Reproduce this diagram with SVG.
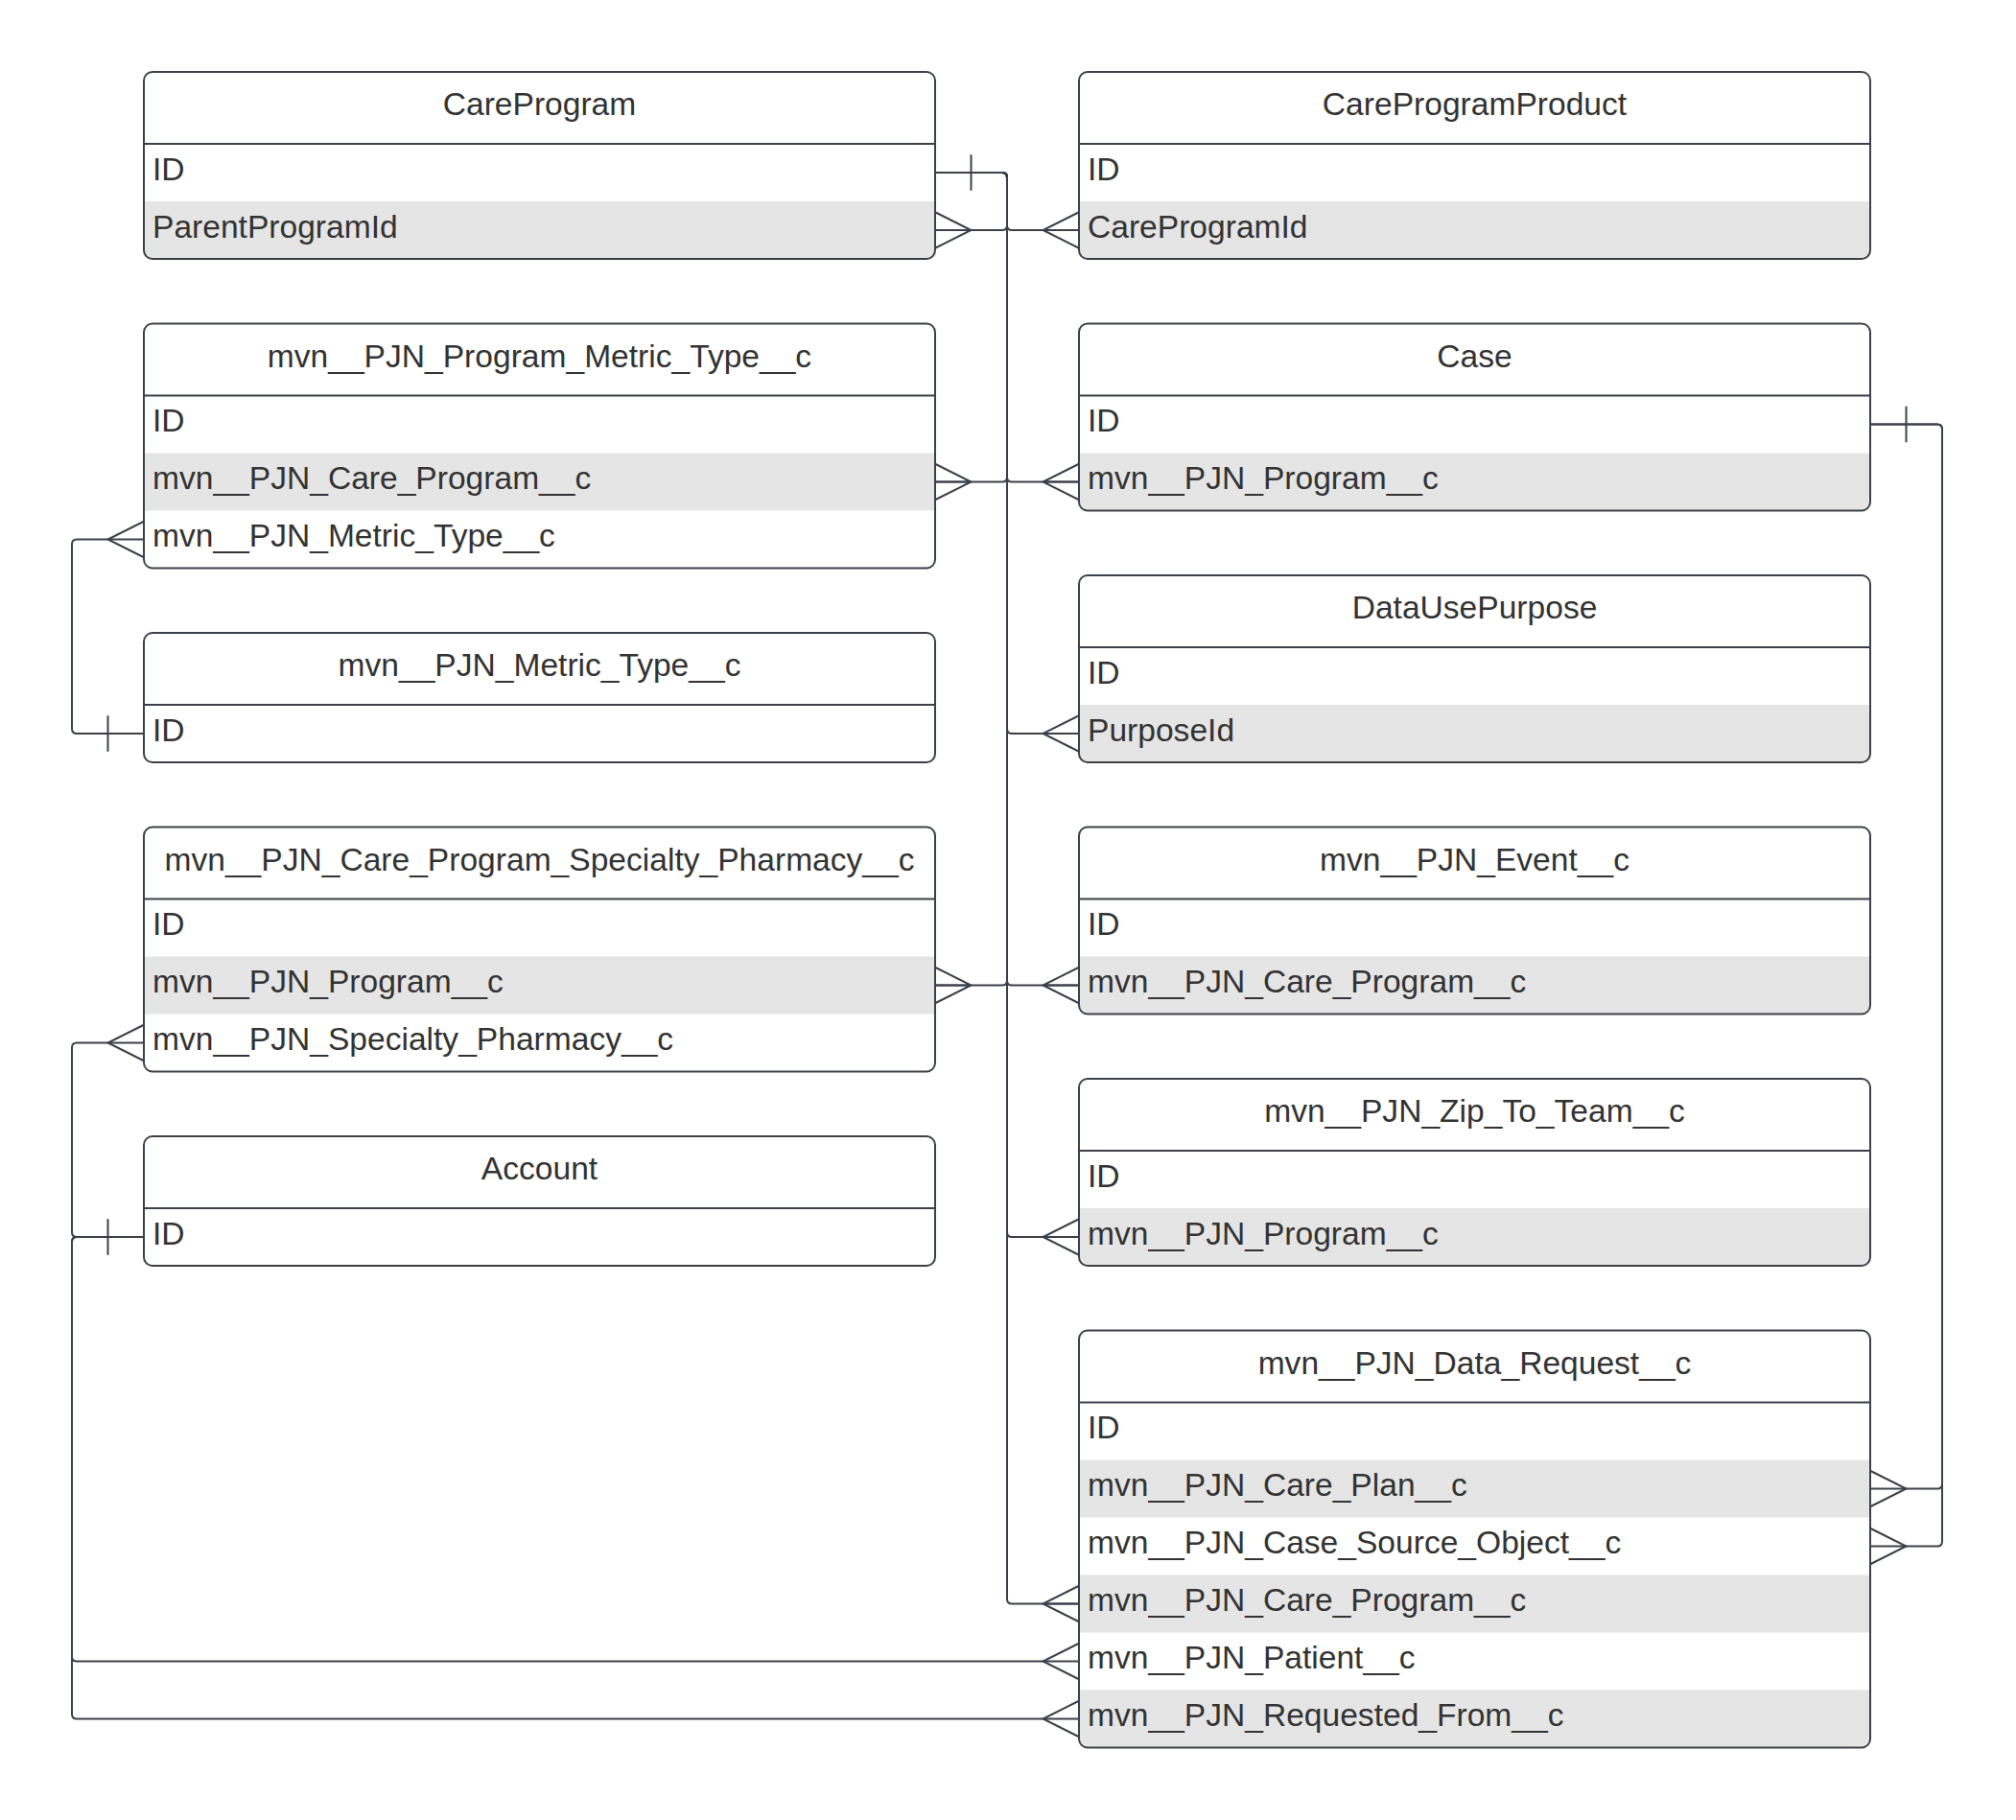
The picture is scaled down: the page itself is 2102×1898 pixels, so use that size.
<svg xmlns="http://www.w3.org/2000/svg" width="2102" height="1898" viewBox="0 0 2102 1898">
<style>
.bg{fill:#ffffff;}
.out{fill:none;stroke:#3a414a;stroke-width:2;}
.sep{stroke:#3a414a;stroke-width:2;}
.g{fill:#e5e5e5;}
.t{font-family:"Liberation Sans",Arial,sans-serif;font-size:33.6px;fill:#333333;}
.h{text-anchor:middle;}
.c{fill:none;stroke:#3a414a;stroke-width:2;}
</style>
<rect x="0" y="0" width="2102" height="1898" fill="#ffffff"/>

<g id="connectors">
  <path class="c" d="M975,180 H1045 Q1050,180 1050,185 V235 Q1050,240 1045,240 H975"/>
  <path class="c" d="M975,180 H1045 Q1050,180 1050,185 V235 Q1050,240 1055,240 H1125"/>
  <path class="c" d="M975,180 H1045 Q1050,180 1050,185 V497.5 Q1050,502.5 1045,502.5 H975"/>
  <path class="c" d="M975,180 H1045 Q1050,180 1050,185 V497.5 Q1050,502.5 1055,502.5 H1125"/>
  <path class="c" d="M975,180 H1045 Q1050,180 1050,185 V760 Q1050,765 1055,765 H1125"/>
  <path class="c" d="M975,180 H1045 Q1050,180 1050,185 V1022.5 Q1050,1027.5 1045,1027.5 H975"/>
  <path class="c" d="M975,180 H1045 Q1050,180 1050,185 V1022.5 Q1050,1027.5 1055,1027.5 H1125"/>
  <path class="c" d="M975,180 H1045 Q1050,180 1050,185 V1285 Q1050,1290 1055,1290 H1125"/>
  <path class="c" d="M975,180 H1045 Q1050,180 1050,185 V1667.5 Q1050,1672.5 1055,1672.5 H1125"/>
  <path class="c" d="M1012.5,161.25 V198.75"/>
  <path class="c" d="M975,221.25 L1012.5,240 L975,258.75 M975,240 H1012.5"/>
  <path class="c" d="M1125,221.25 L1087.5,240 L1125,258.75 M1125,240 H1087.5"/>
  <path class="c" d="M975,483.75 L1012.5,502.5 L975,521.25 M975,502.5 H1012.5"/>
  <path class="c" d="M1125,483.75 L1087.5,502.5 L1125,521.25 M1125,502.5 H1087.5"/>
  <path class="c" d="M1125,746.25 L1087.5,765 L1125,783.75 M1125,765 H1087.5"/>
  <path class="c" d="M975,1008.75 L1012.5,1027.5 L975,1046.25 M975,1027.5 H1012.5"/>
  <path class="c" d="M1125,1008.75 L1087.5,1027.5 L1125,1046.25 M1125,1027.5 H1087.5"/>
  <path class="c" d="M1125,1271.25 L1087.5,1290 L1125,1308.75 M1125,1290 H1087.5"/>
  <path class="c" d="M1125,1653.75 L1087.5,1672.5 L1125,1691.25 M1125,1672.5 H1087.5"/>

  <path class="c" d="M150,765 H80 Q75,765 75,760 V567.5 Q75,562.5 80,562.5 H150"/>
  <path class="c" d="M112.5,746.25 V783.75"/>
  <path class="c" d="M150,543.75 L112.5,562.5 L150,581.25"/>

  <path class="c" d="M150,1290 H80 Q75,1290 75,1285 V1092.5 Q75,1087.5 80,1087.5 H150"/>
  <path class="c" d="M150,1290 H80 Q75,1290 75,1295 V1727.5 Q75,1732.5 80,1732.5 H1125"/>
  <path class="c" d="M150,1290 H80 Q75,1290 75,1295 V1787.5 Q75,1792.5 80,1792.5 H1125"/>
  <path class="c" d="M112.5,1271.25 V1308.75"/>
  <path class="c" d="M150,1068.75 L112.5,1087.5 L150,1106.25"/>
  <path class="c" d="M1125,1713.75 L1087.5,1732.5 L1125,1751.25"/>
  <path class="c" d="M1125,1773.75 L1087.5,1792.5 L1125,1811.25"/>

  <path class="c" d="M1950,442.5 H2020 Q2025,442.5 2025,447.5 V1547.5 Q2025,1552.5 2020,1552.5 H1950"/>
  <path class="c" d="M1950,442.5 H2020 Q2025,442.5 2025,447.5 V1607.5 Q2025,1612.5 2020,1612.5 H1950"/>
  <path class="c" d="M1987.5,423.75 V461.25"/>
  <path class="c" d="M1950,1533.75 L1987.5,1552.5 L1950,1571.25"/>
  <path class="c" d="M1950,1593.75 L1987.5,1612.5 L1950,1631.25"/>
</g>

<g id="CareProgram">
  <rect class="bg" x="150" y="75" width="825" height="195" rx="9"/>
  <path class="g" d="M150,210 H975 V261 A9,9 0 0 1 966,270 H159 A9,9 0 0 1 150,261 Z"/>
  <line class="sep" x1="150" y1="150" x2="975" y2="150"/>
  <rect class="out" x="150" y="75" width="825" height="195" rx="9"/>
  <text class="t h" x="562.5" y="120">CareProgram</text>
  <text class="t" x="159" y="187.5">ID</text>
  <text class="t" x="159" y="247.5">ParentProgramId</text>
</g>

<g id="PMT">
  <rect class="bg" x="150" y="337.5" width="825" height="255" rx="9"/>
  <rect class="g" x="150" y="472.5" width="825" height="60"/>
  <line class="sep" x1="150" y1="412.5" x2="975" y2="412.5"/>
  <rect class="out" x="150" y="337.5" width="825" height="255" rx="9"/>
  <text class="t h" x="562.5" y="382.5">mvn__PJN_Program_Metric_Type__c</text>
  <text class="t" x="159" y="450">ID</text>
  <text class="t" x="159" y="510">mvn__PJN_Care_Program__c</text>
  <text class="t" x="159" y="570">mvn__PJN_Metric_Type__c</text>
</g>

<g id="MetricType">
  <rect class="bg" x="150" y="660" width="825" height="135" rx="9"/>
  <line class="sep" x1="150" y1="735" x2="975" y2="735"/>
  <rect class="out" x="150" y="660" width="825" height="135" rx="9"/>
  <text class="t h" x="562.5" y="705">mvn__PJN_Metric_Type__c</text>
  <text class="t" x="159" y="772.5">ID</text>
</g>

<g id="CPSP">
  <rect class="bg" x="150" y="862.5" width="825" height="255" rx="9"/>
  <rect class="g" x="150" y="997.5" width="825" height="60"/>
  <line class="sep" x1="150" y1="937.5" x2="975" y2="937.5"/>
  <rect class="out" x="150" y="862.5" width="825" height="255" rx="9"/>
  <text class="t h" x="562.5" y="907.5">mvn__PJN_Care_Program_Specialty_Pharmacy__c</text>
  <text class="t" x="159" y="975">ID</text>
  <text class="t" x="159" y="1035">mvn__PJN_Program__c</text>
  <text class="t" x="159" y="1095">mvn__PJN_Specialty_Pharmacy__c</text>
</g>

<g id="Account">
  <rect class="bg" x="150" y="1185" width="825" height="135" rx="9"/>
  <line class="sep" x1="150" y1="1260" x2="975" y2="1260"/>
  <rect class="out" x="150" y="1185" width="825" height="135" rx="9"/>
  <text class="t h" x="562.5" y="1230">Account</text>
  <text class="t" x="159" y="1297.5">ID</text>
</g>

<g id="CareProgramProduct">
  <rect class="bg" x="1125" y="75" width="825" height="195" rx="9"/>
  <path class="g" d="M1125,210 H1950 V261 A9,9 0 0 1 1941,270 H1134 A9,9 0 0 1 1125,261 Z"/>
  <line class="sep" x1="1125" y1="150" x2="1950" y2="150"/>
  <rect class="out" x="1125" y="75" width="825" height="195" rx="9"/>
  <text class="t h" x="1537.5" y="120">CareProgramProduct</text>
  <text class="t" x="1134" y="187.5">ID</text>
  <text class="t" x="1134" y="247.5">CareProgramId</text>
</g>

<g id="Case">
  <rect class="bg" x="1125" y="337.5" width="825" height="195" rx="9"/>
  <path class="g" d="M1125,472.5 H1950 V523.5 A9,9 0 0 1 1941,532.5 H1134 A9,9 0 0 1 1125,523.5 Z"/>
  <line class="sep" x1="1125" y1="412.5" x2="1950" y2="412.5"/>
  <rect class="out" x="1125" y="337.5" width="825" height="195" rx="9"/>
  <text class="t h" x="1537.5" y="382.5">Case</text>
  <text class="t" x="1134" y="450">ID</text>
  <text class="t" x="1134" y="510">mvn__PJN_Program__c</text>
</g>

<g id="DataUsePurpose">
  <rect class="bg" x="1125" y="600" width="825" height="195" rx="9"/>
  <path class="g" d="M1125,735 H1950 V786 A9,9 0 0 1 1941,795 H1134 A9,9 0 0 1 1125,786 Z"/>
  <line class="sep" x1="1125" y1="675" x2="1950" y2="675"/>
  <rect class="out" x="1125" y="600" width="825" height="195" rx="9"/>
  <text class="t h" x="1537.5" y="645">DataUsePurpose</text>
  <text class="t" x="1134" y="712.5">ID</text>
  <text class="t" x="1134" y="772.5">PurposeId</text>
</g>

<g id="Event">
  <rect class="bg" x="1125" y="862.5" width="825" height="195" rx="9"/>
  <path class="g" d="M1125,997.5 H1950 V1048.5 A9,9 0 0 1 1941,1057.5 H1134 A9,9 0 0 1 1125,1048.5 Z"/>
  <line class="sep" x1="1125" y1="937.5" x2="1950" y2="937.5"/>
  <rect class="out" x="1125" y="862.5" width="825" height="195" rx="9"/>
  <text class="t h" x="1537.5" y="907.5">mvn__PJN_Event__c</text>
  <text class="t" x="1134" y="975">ID</text>
  <text class="t" x="1134" y="1035">mvn__PJN_Care_Program__c</text>
</g>

<g id="ZipToTeam">
  <rect class="bg" x="1125" y="1125" width="825" height="195" rx="9"/>
  <path class="g" d="M1125,1260 H1950 V1311 A9,9 0 0 1 1941,1320 H1134 A9,9 0 0 1 1125,1311 Z"/>
  <line class="sep" x1="1125" y1="1200" x2="1950" y2="1200"/>
  <rect class="out" x="1125" y="1125" width="825" height="195" rx="9"/>
  <text class="t h" x="1537.5" y="1170">mvn__PJN_Zip_To_Team__c</text>
  <text class="t" x="1134" y="1237.5">ID</text>
  <text class="t" x="1134" y="1297.5">mvn__PJN_Program__c</text>
</g>

<g id="DataRequest">
  <rect class="bg" x="1125" y="1387.5" width="825" height="435" rx="9"/>
  <rect class="g" x="1125" y="1522.5" width="825" height="60"/>
  <rect class="g" x="1125" y="1642.5" width="825" height="60"/>
  <path class="g" d="M1125,1762.5 H1950 V1813.5 A9,9 0 0 1 1941,1822.5 H1134 A9,9 0 0 1 1125,1813.5 Z"/>
  <line class="sep" x1="1125" y1="1462.5" x2="1950" y2="1462.5"/>
  <rect class="out" x="1125" y="1387.5" width="825" height="435" rx="9"/>
  <text class="t h" x="1537.5" y="1432.5">mvn__PJN_Data_Request__c</text>
  <text class="t" x="1134" y="1500">ID</text>
  <text class="t" x="1134" y="1560">mvn__PJN_Care_Plan__c</text>
  <text class="t" x="1134" y="1620">mvn__PJN_Case_Source_Object__c</text>
  <text class="t" x="1134" y="1680">mvn__PJN_Care_Program__c</text>
  <text class="t" x="1134" y="1740">mvn__PJN_Patient__c</text>
  <text class="t" x="1134" y="1800">mvn__PJN_Requested_From__c</text>
</g>
</svg>
